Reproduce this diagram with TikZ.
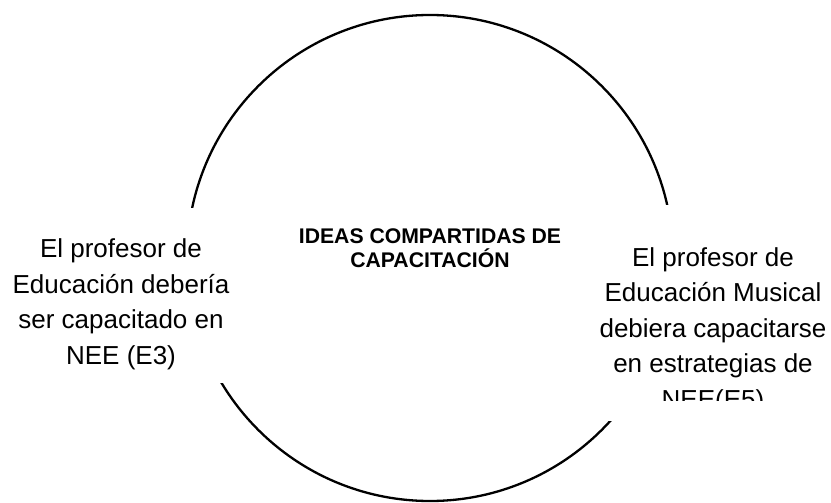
\documentclass[tikz,border=0pt]{standalone}
\usepackage{fontspec}
\setmainfont{Liberation Sans}
\begin{document}
\begin{tikzpicture}[x=1pt,y=-1pt,
  ring/.style={draw=black,line width=2.3pt,circle,minimum size=486pt,inner sep=0pt},
  cover/.style={fill=white,draw=none,inner sep=0pt},
  sidetext/.style={align=center,font=\fontsize{26}{35.5}\selectfont,inner sep=0pt,anchor=base},
  titletext/.style={align=center,font=\bfseries\fontsize{21.2}{23.5}\selectfont,inner sep=0pt,anchor=base}]
\useasboundingbox (0,0) rectangle (831,503);
\node[ring] (c) at (430,258) {};
\node[cover,minimum width=235pt,minimum height=175pt,anchor=north west] (lbox) at (0,208) {};
\node[cover,minimum width=233pt,minimum height=216pt,anchor=north west] (rbox) at (598,205) {};
\node[titletext] (t) at (430,267) {IDEAS COMPARTIDAS DE\\CAPACITACIÓN};
\node[sidetext] (l) at (121,364) {El profesor de\\Educación debería\\ser capacitado en\\NEE (E3)};
\begin{scope}
\clip (598,205) rectangle (831,400);
\node[sidetext] (r) at (713,408) {El profesor de\\Educación Musical\\debiera capacitarse\\en estrategias de\\NEE(E5)};
\end{scope}
\end{tikzpicture}
\end{document}
